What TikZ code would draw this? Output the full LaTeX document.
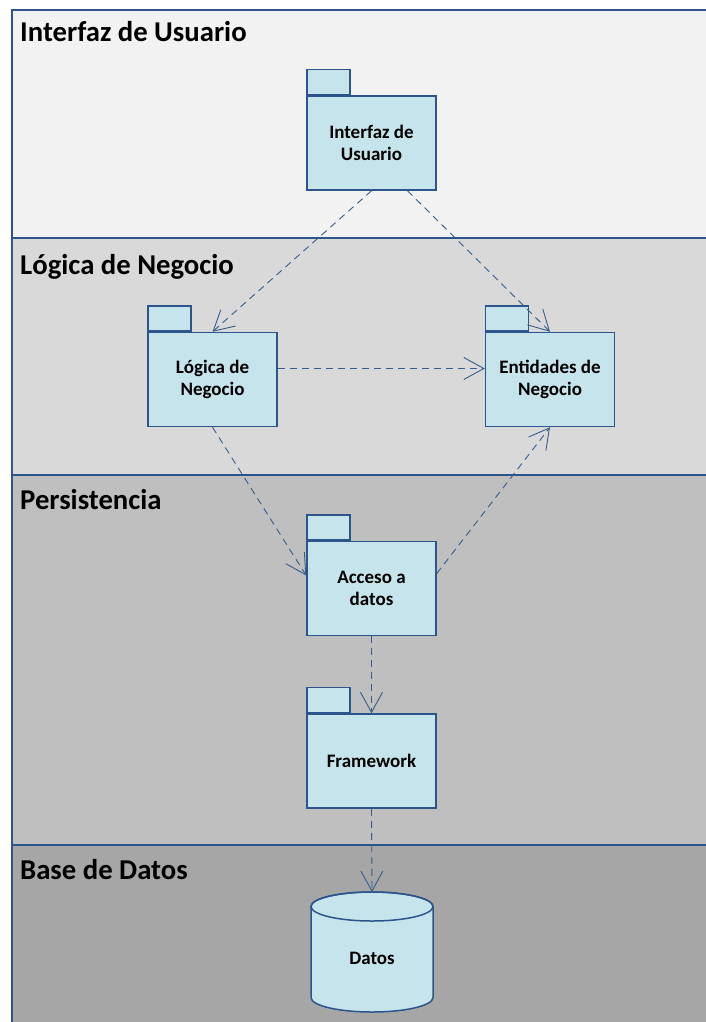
\documentclass[tikz,border=0pt]{standalone}
\usepackage{fontspec}
\setmainfont{Carlito}
\definecolor{lyblue}{RGB}{46,84,140}
\definecolor{lydash}{RGB}{56,93,138}
\definecolor{lyfill}{RGB}{198,228,236}
\definecolor{band1}{RGB}{242,242,242}
\definecolor{band2}{RGB}{217,217,217}
\definecolor{band3}{RGB}{191,191,191}
\definecolor{band4}{RGB}{166,166,166}
\usetikzlibrary{arrows.meta,positioning,calc}

\begin{document}
\begin{tikzpicture}[x=1pt, y=-1pt,
  pkgbox/.style={draw=lyblue, line width=1.5pt, fill=lyfill, minimum width=129pt,
    minimum height=94pt, inner sep=0pt, align=center,
    font=\fontsize{19}{22}\selectfont\bfseries},
  pkgtab/.style={draw=lyblue, line width=1.5pt, fill=lyfill, minimum width=43pt,
    minimum height=25pt, inner sep=0pt, anchor=south west},
  bandtitle/.style={anchor=base west, inner sep=0pt, font=\fontsize{28.7}{30}\selectfont\bfseries},
  depline/.style={draw=lydash, line width=0.9pt, dash pattern=on 7pt off 5pt,
    -{Straight Barb[length=20pt, width=22pt, line width=0.9pt]}}]

\useasboundingbox (0,0) rectangle (705,1022);

% Layer bands
\fill[band1] (12,10) rectangle (708,238);
\fill[band2] (12,238) rectangle (708,475);
\fill[band3] (12,475) rectangle (708,845);
\fill[band4] (12,845) rectangle (708,1025);
\draw[lyblue, line width=2pt] (12,1025) -- (12,10) -- (708,10);
\draw[lyblue, line width=2pt] (12,238) -- (708,238);
\draw[lyblue, line width=2pt] (12,475) -- (708,475);
\draw[lyblue, line width=2pt] (12,845) -- (708,845);

\node[bandtitle] (t-ui) at (20,42) {Interfaz de Usuario};
\node[bandtitle] (t-lg) at (20,274) {Lógica de Negocio};
\node[bandtitle] (t-ps) at (20,509) {Persistencia};
\node[bandtitle] (t-bd) at (20,879) {Base de Datos};

% Packages
\node[pkgbox] (ui) at (371.5,143) {Interfaz de\\Usuario};
\node[pkgtab] (ui-tab) at (ui.north west) {};

\node[pkgbox] (lg) at (212.5,379.5) {Lógica de\\Negocio};
\node[pkgtab] (lg-tab) at (lg.north west) {};

\node[pkgbox] (en) at (550,379.5) {Entidades de\\Negocio};
\node[pkgtab] (en-tab) at (en.north west) {};

\node[pkgbox] (ad) at (371.5,588.5) {Acceso a\\datos};
\node[pkgtab] (ad-tab) at (ad.north west) {};

\node[pkgbox] (fw) at (371.5,761) {Framework};
\node[pkgtab] (fw-tab) at (fw.north west) {};

% Database
\path[draw=lyblue, line width=1.5pt, fill=lyfill]
  (311,906.5) -- (311,997.5) arc[start angle=180, end angle=360, x radius=61pt, y radius=14.5pt]
  -- (433,906.5) arc[start angle=0, end angle=180, x radius=61pt, y radius=14.5pt] -- cycle;
\draw[lyblue, line width=1.5pt] (372,906.5) ellipse[x radius=61pt, y radius=14.5pt];
\coordinate (db-top) at (372,892);
\node[font=\fontsize{19}{22}\selectfont\bfseries] (db) at (372,958) {Datos};

% Dependencies
\draw[depline] (ui.south) -- (lg.north);
\draw[depline] (ui.-53) -- (en.north);
\draw[depline] ([yshift=11pt]lg.east) -- ([yshift=11pt]en.west);
\draw[depline] (lg.south) -- ([yshift=13pt]ad.west);
\draw[depline] ([yshift=15pt]ad.east) -- (en.south);
\draw[depline] (ad.south) -- (fw.north);
\draw[depline] (fw.south) -- (db-top);

\end{tikzpicture}
\end{document}
